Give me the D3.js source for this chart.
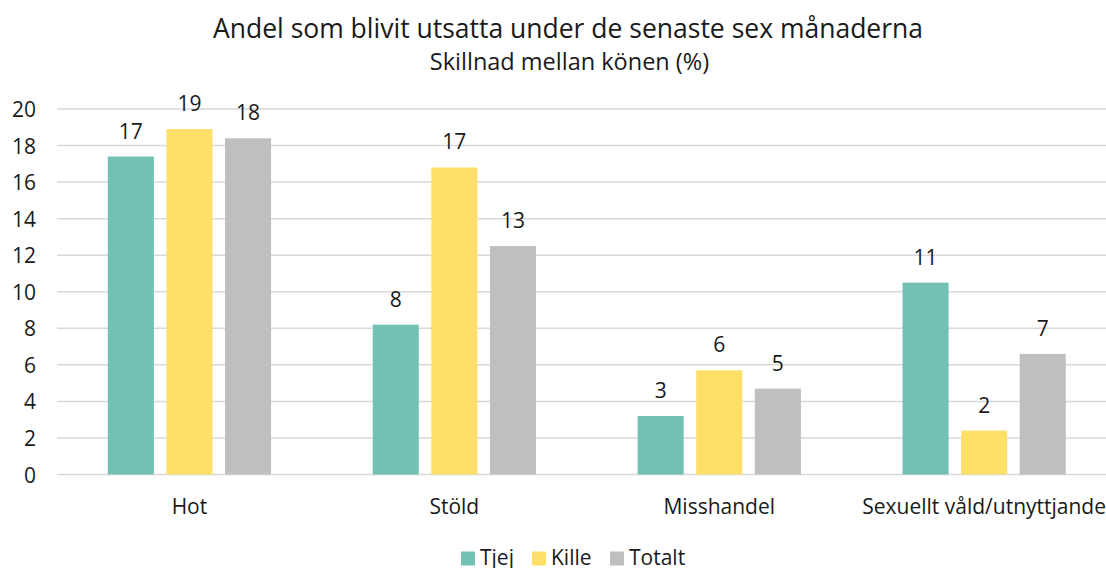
<!DOCTYPE html>
<html>
<head>
<meta charset="utf-8">
<script src="https://cdn.jsdelivr.net/npm/d3@7"></script>
<style>
  body { margin: 0; background: #fff; overflow: hidden; }
  svg { font-family: "Open Sans", sans-serif; }
</style>
</head>
<body>
<div id="chart"></div>
<script>
const categories = ["Hot", "Stöld", "Misshandel", "Sexuellt våld/utnyttjande"];
const seriesNames = ["Tjej", "Kille", "Totalt"];
const tjej   = [17.4, 8.2, 3.2, 10.5];
const kille  = [18.9, 16.8, 5.7, 2.4];
const totalt = [18.4, 12.5, 4.7, 6.6];
const yTicks = [0, 2, 4, 6, 8, 10, 12, 14, 16, 18, 20];

const COLORS = { Tjej: "#72c1b4", Kille: "#fedf68", Totalt: "#bfbfbf" };

const W = 1106, H = 568;
const MARGIN = { top: 109, left: 57, bottom: 93.5 };
const plotRight = 1116.6;
const innerH = H - MARGIN.top - MARGIN.bottom;
const FS = "21px";

const series = [tjej, kille, totalt];
const rows = categories.map((c, i) => ({
  cat: c,
  vals: seriesNames.map((s, j) => ({ key: s, value: series[j][i] }))
}));

const svg = d3.select("#chart").append("svg")
  .attr("width", W).attr("height", H);

svg.append("text")
  .attr("x", 568).attr("y", 38)
  .attr("text-anchor", "middle")
  .attr("font-size", "26.5px").attr("fill", "#1a1a1a")
  .text("Andel som blivit utsatta under de senaste sex månaderna");

svg.append("text")
  .attr("x", 569.5).attr("y", 70)
  .attr("text-anchor", "middle")
  .attr("font-size", "23.5px").attr("fill", "#1a1a1a")
  .text("Skillnad mellan könen (%)");

const g = svg.append("g").attr("transform", `translate(0,${MARGIN.top})`);

const x = d3.scaleBand()
  .domain(categories)
  .range([MARGIN.left, plotRight])
  .paddingInner(0).paddingOuter(0);

const xInner = d3.scaleBand()
  .domain(seriesNames)
  .range([0, x.bandwidth()])
  .paddingInner(0.214)
  .paddingOuter(0.867);

const y = d3.scaleLinear().domain([0, 20]).range([innerH, 0]);

// gridlines
g.selectAll(".grid")
  .data(yTicks)
  .join("line")
  .attr("x1", MARGIN.left).attr("x2", W)
  .attr("y1", d => y(d)).attr("y2", d => y(d))
  .attr("stroke", "#d9d9d9")
  .attr("stroke-width", 1.5);

// y tick labels
g.selectAll(".ytick")
  .data(yTicks)
  .join("text")
  .attr("x", 36)
  .attr("y", d => y(d))
  .attr("text-anchor", "end")
  .attr("dominant-baseline", "central")
  .attr("font-size", FS)
  .attr("fill", "#1a1a1a")
  .text(d => d);

const groups = g.selectAll(".grp")
  .data(rows)
  .join("g")
  .attr("transform", d => `translate(${x(d.cat)},0)`);

groups.selectAll("rect")
  .data(d => d.vals)
  .join("rect")
  .attr("x", d => xInner(d.key))
  .attr("width", xInner.bandwidth())
  .attr("y", d => y(d.value))
  .attr("height", d => innerH - y(d.value))
  .attr("fill", d => COLORS[d.key]);

groups.selectAll(".lbl")
  .data(d => d.vals)
  .join("text")
  .attr("x", d => xInner(d.key) + xInner.bandwidth() / 2)
  .attr("y", d => y(d.value) - 18)
  .attr("text-anchor", "middle")
  .attr("font-size", FS)
  .attr("fill", "#1a1a1a")
  .text(d => Math.round(d.value));

// category labels
g.selectAll(".xlab")
  .data(categories)
  .join("text")
  .attr("x", d => x(d) + x.bandwidth() / 2)
  .attr("y", innerH + 39)
  .attr("text-anchor", "middle")
  .attr("font-size", FS)
  .attr("fill", "#1a1a1a")
  .text(d => d);

// legend
const legendX = [461, 532, 610];
const leg = svg.append("g");
seriesNames.forEach((s, i) => {
  leg.append("rect")
    .attr("x", legendX[i]).attr("y", 551.5)
    .attr("width", 14).attr("height", 14)
    .attr("fill", COLORS[s]);
  leg.append("text")
    .attr("x", legendX[i] + 19).attr("y", 564.5)
    .attr("font-size", FS).attr("fill", "#1a1a1a")
    .text(s);
});
</script>
</body>
</html>
